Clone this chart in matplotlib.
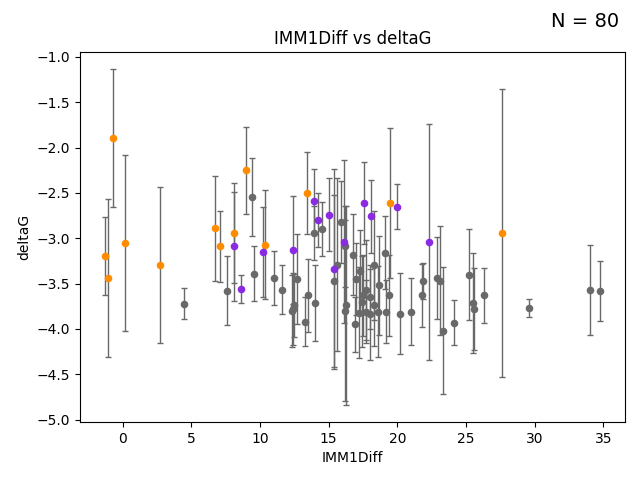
import matplotlib
matplotlib.use('Agg')
import matplotlib.pyplot as plt
import numpy as np

# orange points: x, y, error
orange_x = [-1.3, -1.1, -0.7, 0.2, 2.7, 6.7, 7.1, 8.1, 9.0, 10.4, 13.4, 19.5, 27.6]
orange_y = [-3.2, -3.44, -1.89, -3.05, -3.3, -2.89, -3.09, -2.94, -2.25, -3.07, -2.5, -2.61, -2.94]
orange_e = [0.43, 0.87, 0.76, 0.97, 0.86, 0.58, 0.39, 0.55, 0.48, 0.6, 0.45, 0.83, 1.59]

# purple points
purple_x = [8.1, 8.6, 10.2, 12.4, 13.9, 14.2, 15.0, 15.4, 16.1, 17.6, 18.1, 20.0, 22.3]
purple_y = [-3.09, -3.56, -3.15, -3.13, -2.59, -2.8, -2.74, -3.34, -3.04, -2.61, -2.76, -2.65, -3.04]
purple_e = [0.6, 0.15, 0.5, 0.6, 0.35, 0.3, 0.4, 1.1, 0.9, 0.45, 0.4, 0.25, 1.3]

# gray points
gray_x = [4.5, 7.6, 9.4, 9.6, 11.0, 11.6, 12.3, 12.4, 12.45, 12.7, 13.3, 13.5, 13.9, 14.0,
          14.5, 15.4, 15.6, 15.9, 16.2, 16.2, 16.25, 16.8, 16.9, 17.0, 17.2, 17.3, 17.4, 17.5,
          17.7, 17.7, 18.0, 18.05, 18.3, 18.3, 18.6, 18.7, 19.1, 19.2, 19.4, 20.2, 21.0, 21.8,
          21.85, 22.9, 23.1, 23.3, 24.1, 25.2, 25.5, 25.6, 26.3, 29.6, 34.0, 34.8]
gray_y = [-3.72, -3.58, -2.55, -3.39, -3.44, -3.57, -3.8, -3.78, -3.74, -3.45, -3.92, -3.63,
          -2.94, -3.71, -2.9, -3.47, -3.29, -2.82, -3.09, -3.8, -3.74, -3.18, -3.95, -3.45,
          -3.82, -3.36, -3.7, -3.63, -3.57, -3.81, -3.65, -3.84, -3.3, -3.74, -3.81, -3.52,
          -3.16, -3.81, -3.63, -3.83, -3.81, -3.63, -3.47, -3.44, -3.47, -4.02, -3.93, -3.4,
          -3.71, -3.78, -3.63, -3.77, -3.57, -3.58]
gray_e = [0.17, 0.38, 0.43, 0.3, 0.3, 0.27, 0.4, 0.4, 0.35, 0.5, 0.27, 0.4, 0.3, 0.42,
          0.3, 0.95, 0.95, 0.45, 0.45, 1.0, 1.1, 0.45, 0.3, 0.4, 0.5, 0.45, 0.5, 0.45,
          0.55, 0.35, 0.35, 0.5, 0.6, 0.45, 0.5, 0.55, 0.4, 0.35, 0.45, 0.45, 0.37, 0.35,
          0.2, 0.45, 0.6, 0.7, 0.25, 0.5, 0.55, 0.45, 0.3, 0.1, 0.5, 0.33]

fig, ax = plt.subplots(figsize=(6.4, 4.8), dpi=100)
for xs, ys, es, col in [(gray_x, gray_y, gray_e, 'dimgray'),
                        (orange_x, orange_y, orange_e, 'darkorange'),
                        (purple_x, purple_y, purple_e, 'blueviolet')]:
    ax.errorbar(xs, ys, yerr=es, fmt='none', ecolor='dimgray', capsize=2.5, elinewidth=1)
    ax.scatter(xs, ys, color=col, s=20, zorder=3)

ax.set_title('IMM1Diff vs deltaG')
ax.set_xlabel('IMM1Diff')
ax.set_ylabel('deltaG')
fig.text(0.967, 0.975, 'N = 80', ha='right', va='top', fontsize=14)
fig.subplots_adjust(left=0.125, right=0.977, top=0.892, bottom=0.121)
fig.savefig('out.png')
